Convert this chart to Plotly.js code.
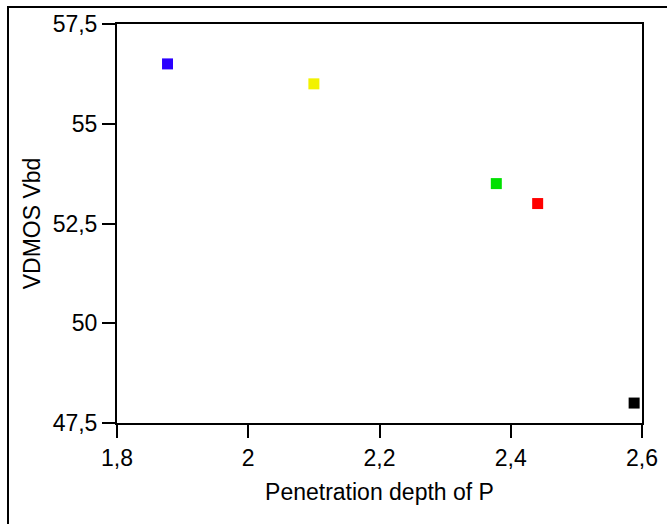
<!DOCTYPE html>
<html><head><meta charset="utf-8">
<script src="https://cdn.plot.ly/plotly-3.0.1.min.js"></script>
<style>html,body{margin:0;padding:0;background:#fff;}#chart{width:667px;height:524px;}</style>
</head><body><div id="chart"></div>
<script>
const depthP = [1.877, 2.10, 2.378, 2.441, 2.588];
const vbd = [56.5, 56.0, 53.5, 53.0, 48.0];
const pointColors = ['#2a00ff', '#f2f200', '#00e000', '#ff0000', '#000000'];
const xTickVals = [1.8, 2.0, 2.2, 2.4, 2.6];
const xTickText = ['1,8', '2', '2,2', '2,4', '2,6'];
const yTickVals = [47.5, 50, 52.5, 55, 57.5];
const yTickText = ['47,5', '50', '52,5', '55', '57,5'];

const W = 667, H = 524, L = 117, R = 25, T = 24, B = 101;
const pw = W - L - R, ph = H - T - B;
const px2x = p => (p - L) / pw;
const py2y = p => (H - B - p) / ph;

const trace = {
  x: depthP, y: vbd, type: 'scatter', mode: 'markers',
  marker: {symbol: 'square', size: 11, color: pointColors, line: {width: 0}},
  hoverinfo: 'x+y'
};
const fontFam = 'Liberation Sans, Arial, sans-serif';
const FS = 23;
const layout = {
  width: W, height: H,
  margin: {l: L, r: R, t: T, b: B, pad: 0},
  paper_bgcolor: '#fff', plot_bgcolor: '#fff',
  showlegend: false,
  font: {family: fontFam, size: FS, color: '#000'},
  xaxis: {
    range: [1.8, 2.6], tickvals: xTickVals, ticktext: xTickText,
    showgrid: false, zeroline: false, showline: true, mirror: true,
    linecolor: '#000', linewidth: 2, ticks: 'outside', ticklen: 13, tickwidth: 2, tickcolor: '#000',
    tickfont: {size: FS},
    title: {text: 'Penetration depth of P', font: {size: FS}, standoff: 14}
  },
  yaxis: {
    range: [47.5, 57.5], tickvals: yTickVals, ticktext: yTickText,
    showgrid: false, zeroline: false, showline: true, mirror: true,
    linecolor: '#000', linewidth: 2, ticks: 'outside', ticklen: 13, tickwidth: 2, tickcolor: '#000',
    tickfont: {size: FS},
    title: {text: 'VDMOS Vbd', font: {size: FS}, standoff: 6}
  },
  shapes: [
    {type: 'line', xref: 'paper', yref: 'paper', layer: 'above',
     x0: px2x(8), x1: px2x(W + 5), y0: py2y(7), y1: py2y(7),
     line: {color: '#000', width: 2}},
    {type: 'line', xref: 'paper', yref: 'paper', layer: 'above',
     x0: px2x(8), x1: px2x(8), y0: py2y(6), y1: py2y(H + 5),
     line: {color: '#000', width: 2}}
  ]
};
Plotly.newPlot('chart', [trace], layout, {displayModeBar: false, staticPlot: true});
</script></body></html>
